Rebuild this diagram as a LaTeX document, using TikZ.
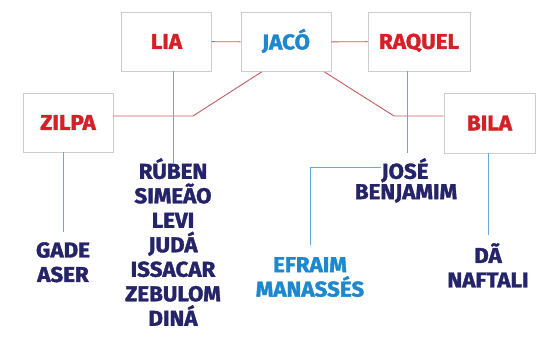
\documentclass[tikz,border=0pt]{standalone}
\usepackage{fontspec}
\newfontfamily\namefont{Fira Sans}[BoldFeatures={FakeBold=1.6,FakeStretch=1.04}]
\definecolor{wifered}{RGB}{214,32,40}
\definecolor{sonblue}{RGB}{38,36,104}
\definecolor{jacoblue}{RGB}{30,136,206}
\definecolor{redline}{RGB}{200,90,95}
\definecolor{blueline}{RGB}{100,170,225}
\definecolor{boxgray}{RGB}{205,205,205}
\begin{document}
\begin{tikzpicture}[x=1pt,y=-1pt,
    person/.style={draw=boxgray,line width=0.8pt,fill=white,minimum width=90pt,minimum height=59pt,
        inner sep=0pt,text height=14.8pt,text depth=0pt,font=\namefont\bfseries\fontsize{21.5}{24}\selectfont},
    kids/.style={align=center,anchor=north,inner sep=0pt,text=sonblue,
        font=\namefont\bfseries\fontsize{21.5}{24.5}\selectfont},
    marriage/.style={draw=redline,line width=0.9pt},
    descent/.style={draw=blueline,line width=1pt}]
    \useasboundingbox (0,0) rectangle (536,337);
    % wives and husband
    \node[person,text=wifered] (lia) at (166.5,41.5) {LIA};
    \node[person,text=jacoblue] (jaco) at (286,42) {JACÓ};
    \node[person,text=wifered,minimum width=102pt] (raquel) at (419,41.5) {RAQUEL};
    \node[person,text=wifered] (zilpa) at (68,122.5) {ZILPA};
    \node[person,text=wifered,minimum width=91pt,minimum height=60pt] (bila) at (489.5,123) {BILA};
    % sons
    \node[kids] (liakids) at (173,158) {RÚBEN\\SIMEÃO\\LEVI\\JUDÁ\\ISSACAR\\ZEBULOM\\DINÁ};
    \node[kids] (zilpakids) at (63,242) {GADE\\ASER};
    \node[kids] (jose) at (405,158) {JOSÉ};
    \node[kids] (benjamim) at (406,184) {BENJAMIM};
    \node[kids] (bilakids) at (488,243) {DÃ\\NAFTALI};
    \node[kids,text=jacoblue] (efraimkids) at (310,257) {EFRAIM\\MANASSÉS};
    % marriages
    \coordinate (zilpabend) at (193,116);
    \coordinate (bilabend) at (394,116);
    \draw[marriage] (lia) -- (jaco);
    \draw[marriage] (jaco) -- (raquel);
    \draw[marriage] ([xshift=21pt]jaco.south west) -- (zilpabend) -- (zilpabend -| zilpa.east);
    \draw[marriage] ([xshift=-7pt]jaco.south east) -- (bilabend) -- (bilabend -| bila.west);
    % descent
    \draw[descent,shorten >=-5pt] (lia.south -| liakids.north) -- (liakids.north);
    \draw[descent,shorten >=10pt] (zilpa.south -| zilpakids.north) -- (zilpakids.north);
    \draw[descent,shorten >=5pt] (raquel.south -| 407,0) -- (jose.north -| 407,0);
    \draw[descent,shorten >=8pt] (bila.south -| bilakids.north) -- (bilakids.north);
    \draw[descent,shorten >=12pt] ([yshift=3pt]jose.west) -| (efraimkids.north);
\end{tikzpicture}
\end{document}
